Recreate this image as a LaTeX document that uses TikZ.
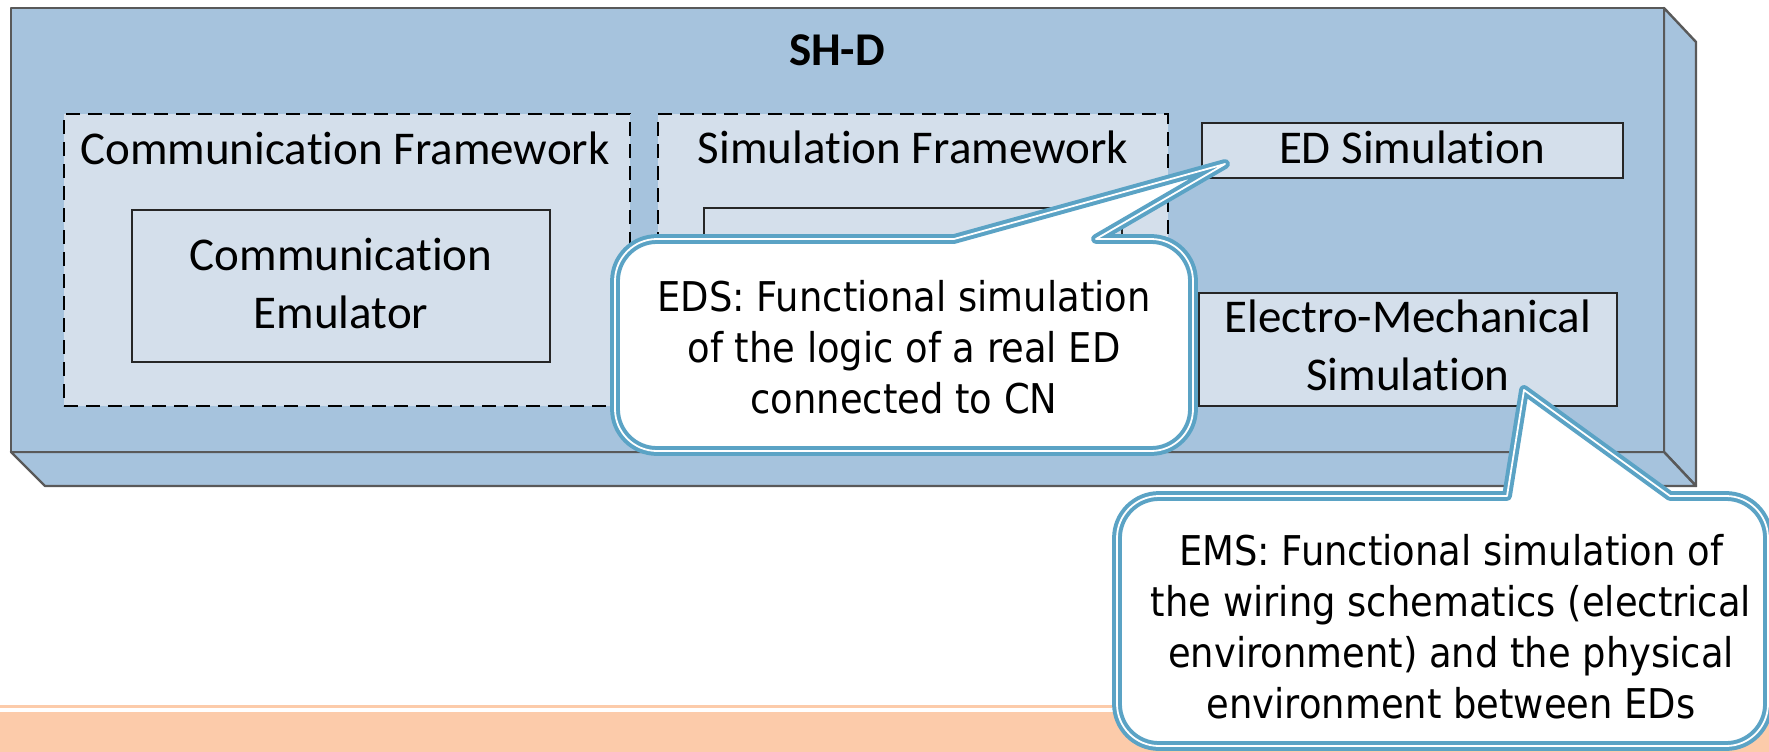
\documentclass[tikz,border=0pt]{standalone}
\usepackage{fontspec}
\setmainfont{Carlito}[Ligatures={NoCommon,NoContextual}, RawFeature={-liga;-clig;-calt;-dlig}]
\newfontfamily\callfont[FakeStretch=0.9]{DejaVu Sans}
\definecolor{slab}{HTML}{A6C3DD}
\definecolor{pane}{HTML}{D4DFEB}
\definecolor{edge}{HTML}{595959}
\definecolor{callblue}{HTML}{5BA3C5}
\definecolor{band}{HTML}{FCCBAA}
\begin{document}
\begin{tikzpicture}[x=1pt,y=-1pt,
  lbl/.style={inner sep=0pt, align=center, font=\fontsize{47}{57.5}\selectfont},
  frame/.style={draw=black, fill=pane, line width=2.2pt, dash pattern=on 14pt off 8pt, inner sep=0pt, outer sep=0pt},
  unit/.style={draw=black!85, fill=pane, line width=2pt, inner sep=0pt, outer sep=0pt},
  slabface/.style={fill=slab, draw=edge, line width=2.4pt, line join=round},
  callout/.style={draw=callblue, double=white, double distance=1.8pt, line width=4pt, fill=white, line join=round},
  calltext/.style={inner sep=0pt, align=center, font=\callfont\fontsize{41}{51}\selectfont}]

\useasboundingbox (0,0) rectangle (1769,752);
\fill[white] (0,0) rectangle (1769,752);

% orange footer band
\fill[band] (0,705) rectangle (1769,708);
\fill[band] (0,712) rectangle (1769,752);

% the SH-D slab (front, right and bottom faces)
\draw[slabface] (1664,8) -- (1696,42) -- (1696,486) -- (1664,452) -- cycle;
\draw[slabface] (11,452) -- (45,486) -- (1696,486) -- (1664,452) -- cycle;
\draw[slabface] (11,8) rectangle (1664,452);
\node[lbl, anchor=base, font=\fontsize{47}{57.5}\selectfont\bfseries] (title) at (837,66) {SH-D};

% frameworks
\node[frame, minimum width=566pt, minimum height=292pt] (commfw) at (347,260) {};
\node[frame, minimum width=510pt, minimum height=292pt] (simfw) at (913,260) {};
\node[lbl, anchor=base] (commfwtxt) at (345,164) {Communication Framework};
\node[lbl, anchor=base] (simfwtxt) at (913,163) {Simulation Framework};

% components (multi-line labels sit on the baseline of their last line)
\node[unit, minimum width=418pt, minimum height=152pt] (emu) at (341,286) {};
\node[lbl, anchor=base] (emutxt) at (341,328) {Communication\\Emulator};
\node[unit, minimum width=418pt, minimum height=154pt] (siminner) at (913,285) {};
\node[unit, minimum width=421pt, minimum height=55pt] (eds) at (1412.5,150.5) {};
\node[lbl, anchor=base] (edstxt) at (1412,163) {ED Simulation};
\node[unit, minimum width=418pt, minimum height=113pt] (ems) at (1408,349.5) {};
\node[lbl, anchor=base] (emstxt) at (1408,390) {Electro-Mechanical\\Simulation};

% callout on the ED simulation
\coordinate (tipA) at (1225,164);
\draw[callout] (954,239) -- (tipA) -- (1096,239)
  -- (1151,239) .. controls (1174.2,239) and (1193,257.8) .. (1193,281)
  -- (1193,409) .. controls (1193,432.2) and (1174.2,451) .. (1151,451)
  -- (657,451) .. controls (633.8,451) and (615,432.2) .. (615,409)
  -- (615,281) .. controls (615,257.8) and (633.8,239) .. (657,239)
  -- cycle;
\node[calltext, anchor=base] (notea) at (904,413)
  {EDS: Functional simulation\\of the logic of a real ED\\connected to CN};

% callout on the electro-mechanical simulation
\coordinate (tipB) at (1524,390);
\draw[callout] (1507,496) -- (tipB) -- (1670,496)
  -- (1726,496) .. controls (1749.2,496) and (1768,514.8) .. (1768,538)
  -- (1768,704) .. controls (1768,727.2) and (1749.2,746) .. (1726,746)
  -- (1159,746) .. controls (1135.8,746) and (1117,727.2) .. (1117,704)
  -- (1117,538) .. controls (1117,514.8) and (1135.8,496) .. (1159,496)
  -- cycle;
\node[calltext, anchor=base] (noteb) at (1451,718)
  {EMS: Functional simulation of\\the wiring schematics (electrical\\environment) and the physical\\environment between EDs};
\end{tikzpicture}
\end{document}
